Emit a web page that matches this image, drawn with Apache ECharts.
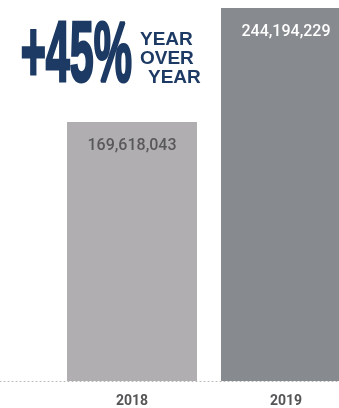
<!DOCTYPE html>
<html><head><meta charset="utf-8">
<script src="https://cdn.jsdelivr.net/npm/echarts@6/dist/echarts.min.js"></script>
<style>html,body{margin:0;padding:0;background:#fff}#c{width:339px;height:408px}</style>
</head><body><div id="c"></div>
<script>
const categories = ['2018', '2019'];
const values = [169618043, 244194229];
const barColors = ['#b0aeb1', '#878a8f'];
const labelColors = ['#58585a', '#ffffff'];
const headline = '+45%';
const subLines = ['YEAR', 'OVER', 'YEAR'];

const chart = echarts.init(document.getElementById('c'));
const navy = '#1c3a63';
chart.setOption({
  animation: false,
  grid: [
    {left: 55, width: 308, top: 8, bottom: 27, outerBoundsMode: 'none', containLabel: false},
    {left: 0, right: 0, top: 8, bottom: 27, outerBoundsMode: 'none'}
  ],
  xAxis: [
    {type: 'category', data: categories, gridIndex: 0,
     axisLine: {show: false}, axisTick: {show: false},
     axisLabel: {color: '#555557', fontSize: 14, fontWeight: 'bold', fontFamily: 'Roboto', margin: 13}},
    {type: 'category', data: [''], gridIndex: 1,
     axisLine: {show: true, lineStyle: {color: '#b8b8b8', type: [1, 3], width: 1}},
     axisTick: {show: false}, axisLabel: {show: false}}
  ],
  yAxis: [
    {type: 'value', gridIndex: 0, min: 0, max: 244194229, show: false},
    {type: 'value', gridIndex: 1, min: 0, max: 1, show: false}
  ],
  series: [{
    type: 'bar', xAxisIndex: 0, yAxisIndex: 0, barWidth: 130, z: 1,
    data: values.map((v, i) => ({
      value: v,
      itemStyle: {color: barColors[i]},
      label: {color: labelColors[i]}
    })),
    label: {show: true, position: 'insideTop', distance: 16, fontSize: 16, fontWeight: 500, fontFamily: 'Roboto',
      formatter: p => p.value.toLocaleString('en-US')}
  }],
  graphic: [
    {type: 'text', left: 20, top: 13, scaleX: 0.5, style: {text: headline, fill: navy, stroke: navy, lineWidth: 3, font: 'bold 86px "Liberation Sans"'}},
    {type: 'text', left: 140, top: 30, style: {text: subLines[0], fill: navy, font: 'bold 19px "Liberation Sans"'}},
    {type: 'text', left: 140, top: 49, style: {text: subLines[1], fill: navy, font: 'bold 19px "Liberation Sans"'}},
    {type: 'text', left: 148, top: 68, style: {text: subLines[2], fill: navy, font: 'bold 19px "Liberation Sans"'}}
  ]
});
</script></body></html>
